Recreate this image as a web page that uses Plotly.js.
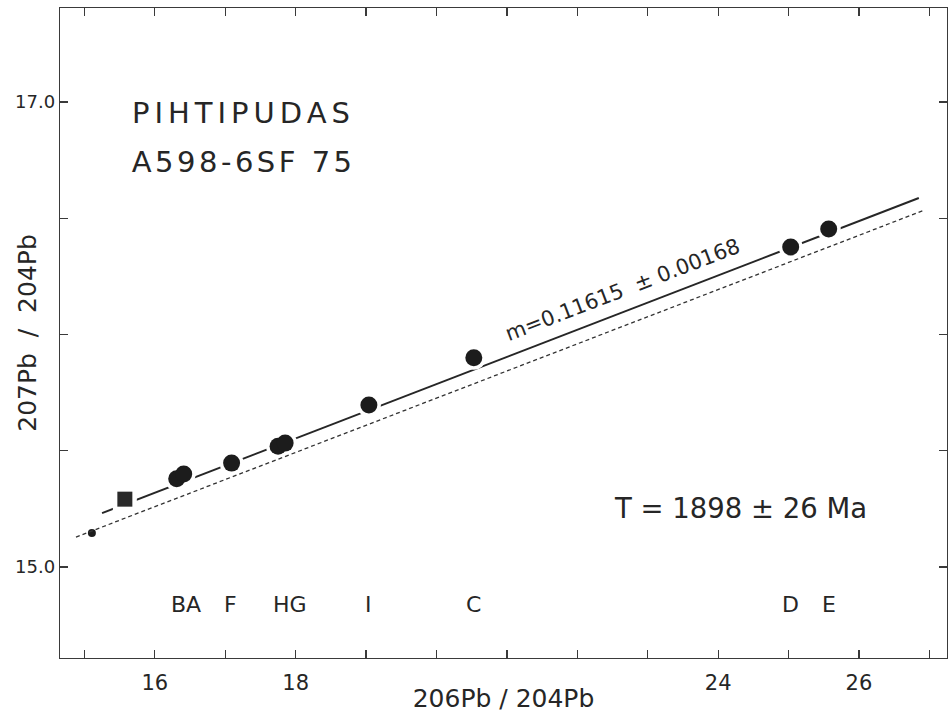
<!DOCTYPE html>
<html>
<head>
<meta charset="utf-8">
<script src="https://cdn.plot.ly/plotly-3.0.1.min.js"></script>
<style>
  html, body { margin: 0; padding: 0; background: #ffffff; }
  #chart { width: 948px; height: 713px; }
  .annotation[data-index="0"] text { letter-spacing: 5px; }
  .annotation[data-index="1"] text { letter-spacing: 3.5px; }
</style>
</head>
<body>
<div id="chart"></div>
<script>
// ---- data ----
const circleX = [16.31, 16.41, 17.09, 17.75, 17.85, 19.04, 20.53, 25.03, 25.57];
const circleY = [15.38, 15.40, 15.447, 15.52, 15.533, 15.697, 15.90, 16.376, 16.454];
const squareX = [15.574];
const squareY = [15.292];
const dotX = [15.106];
const dotY = [15.146];
const fitLineX = [15.25, 26.85];
const fitLineY = [15.232, 16.587];
const refLineX = [14.88, 26.93];
const refLineY = [15.129, 16.535];
const labelText = ["BA", "F", "HG", "I", "C", "D", "E"];
const labelX = [16.44, 17.07, 17.92, 19.04, 20.53, 25.03, 25.57];
const xTickVals = [15, 16, 17, 18, 19, 20, 21, 22, 23, 24, 25, 26, 27];
const xTickText = ["", "16", "", "18", "", "", "", "", "", "24", "", "26", ""];
const yTickVals = [15.0, 15.5, 16.0, 16.5, 17.0];
const yTickText = ["15.0", "", "", "", "17.0"];

const FONT = "DejaVu Sans, Lato, sans-serif";
const INK = "#262626";

const haloX = circleX.concat(squareX);
const haloY = circleY.concat(squareY);
const haloSym = circleX.map(() => "circle").concat(squareX.map(() => "square"));

const traces = [
  { x: refLineX, y: refLineY, yaxis: "y2", mode: "lines", hoverinfo: "skip",
    line: { color: "#333", width: 1.3, dash: "4px,3px" } },
  { x: fitLineX, y: fitLineY, mode: "lines", hoverinfo: "skip",
    line: { color: INK, width: 2 } },
  { x: haloX, y: haloY, mode: "markers", hoverinfo: "skip",
    marker: { symbol: haloSym, size: 24, color: "#ffffff", line: { width: 0 } } },
  { x: circleX, y: circleY, mode: "markers",
    marker: { symbol: "circle", size: 17, color: "#1c1c1c", line: { width: 0 } } },
  { x: squareX, y: squareY, mode: "markers",
    marker: { symbol: "square", size: 15, color: "#2a2a2a", line: { width: 0 } } },
  { x: dotX, y: dotY, mode: "markers",
    marker: { symbol: "circle", size: 8, color: "#1c1c1c", line: { width: 0 } } }
];

const annotations = [
  { text: "PIHTIPUDAS", x: 15.999, y: 16.953, xref: "x", yref: "y", xanchor: "left", yanchor: "middle",
    showarrow: false, font: { family: FONT, size: 29, color: INK } },
  { text: "A598-6SF 75", x: 15.914, y: 16.742, xref: "x", yref: "y", xanchor: "left", yanchor: "middle",
    showarrow: false, font: { family: FONT, size: 29, color: INK } },
  { text: "m=0.11615  \u00b1 0.00168", x: 22.64, y: 16.19, xref: "x", yref: "y", xanchor: "center", yanchor: "middle",
    textangle: -21, showarrow: false, font: { family: FONT, size: 21, color: INK } },
  { text: "T = 1898 \u00b1 26 Ma", x: 22.486, y: 15.254, xref: "x", yref: "y", xanchor: "left", yanchor: "middle",
    showarrow: false, font: { family: FONT, size: 27.5, color: INK } }
];
labelText.forEach((t, i) => {
  annotations.push({ text: t, x: labelX[i], y: 14.841, xref: "x", yref: "y", xanchor: "center", yanchor: "middle",
    showarrow: false, font: { family: FONT, size: 22, color: INK } });
});

const axisCommon = {
  showgrid: false, zeroline: false, showline: true, linecolor: "#3a3a3a", linewidth: 1.3,
  ticks: "inside", ticklen: 8, tickwidth: 1.2, tickcolor: "#3a3a3a", mirror: "ticks",
  tickmode: "array", fixedrange: true
};

const layout = {
  width: 948, height: 713,
  margin: { l: 0, r: 1, t: 8, b: 55 },
  paper_bgcolor: "#ffffff", plot_bgcolor: "#ffffff",
  showlegend: false,
  xaxis: Object.assign({}, axisCommon, {
    domain: [60 / 947, 1],
    range: [14.653, 27.25],
    tickvals: xTickVals, ticktext: xTickText,
    ticklabelstandoff: 5,
    tickfont: { family: FONT, size: 21, color: INK },
    title: { text: "206Pb / 204Pb", standoff: 0, font: { family: FONT, size: 25, color: INK } }
  }),
  yaxis: Object.assign({}, axisCommon, {
    range: [14.609, 17.404],
    anchor: "x",
    tickvals: yTickVals, ticktext: yTickText,
    tickfont: { family: FONT, size: 18, color: INK }
  }),
  yaxis2: {
    overlaying: "y", matches: "y", anchor: "free", position: 45 / 947, side: "left",
    showticklabels: false, ticks: "", showline: false, showgrid: false, zeroline: false, fixedrange: true,
    title: { text: "207Pb  /  204Pb", standoff: 0, font: { family: FONT, size: 25, color: INK } }
  },
  annotations: annotations
};

Plotly.newPlot("chart", traces, layout, { displayModeBar: false, staticPlot: true });
</script>
</body>
</html>
